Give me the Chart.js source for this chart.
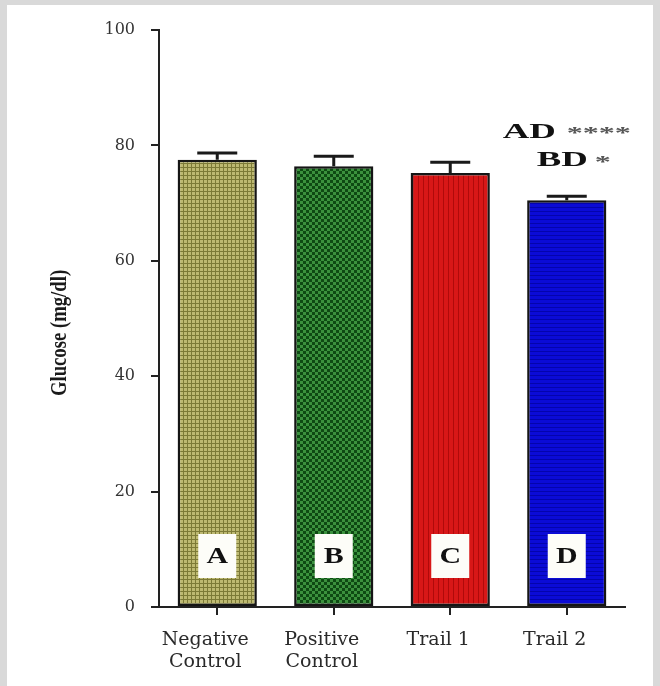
<!DOCTYPE html>
<html>
<head>
<meta charset="utf-8">
<script src="https://cdn.jsdelivr.net/npm/chart.js@4.4.1/dist/chart.umd.min.js"></script>
<style>
  html, body { margin: 0; padding: 0; background: #d9d9d9; }
  #panel { position: absolute; left: 7px; top: 5px; width: 646px; height: 681px; background: #fff; }
  #glucoseChart { position: absolute; left: 0; top: 0; }
</style>
</head>
<body>
<div id="panel"></div>
<canvas id="glucoseChart" width="660" height="686"></canvas>
<script>
// chart data
const groups = [['Negative', 'Control'], ['Positive', 'Control'], 'Trail 1', 'Trail 2'];
const groupLetters = ['A', 'B', 'C', 'D'];
const glucoseMean = [77.5, 76.4, 75.2, 70.5];
const glucoseErr = [1.2, 1.7, 1.9, 0.7];
const yTicks = [0, 20, 40, 60, 80, 100];
const sigLabels = [['AD', '****'], ['BD', '*']];

// little tiles for the hatched bar fills
function tile(w, h, draw) {
    const c = document.createElement('canvas');
    c.width = w;
    c.height = h;
    draw(c.getContext('2d'));
    return c;
}

const canvas = document.getElementById('glucoseChart');
const ctx = canvas.getContext('2d');

const fills = [
    ctx.createPattern(tile(4, 4, g => {
        g.fillStyle = '#7c7a36'; g.fillRect(0, 0, 4, 4);
        g.fillStyle = '#bdb971'; g.fillRect(0, 0, 3, 3);
    }), 'repeat'),
    ctx.createPattern(tile(6, 6, g => {
        g.fillStyle = '#3b913d'; g.fillRect(0, 0, 6, 6);
        g.fillStyle = '#0e4a13'; g.fillRect(0, 0, 3, 3); g.fillRect(3, 3, 3, 3);
    }), 'repeat'),
    ctx.createPattern(tile(5, 1, g => {
        g.fillStyle = '#d81717'; g.fillRect(0, 0, 5, 1);
        g.fillStyle = '#b00a0a'; g.fillRect(3, 0, 1, 1);
    }), 'repeat'),
    ctx.createPattern(tile(1, 4, g => {
        g.fillStyle = '#0b0bd6'; g.fillRect(0, 0, 1, 4);
        g.fillStyle = '#0404ac'; g.fillRect(0, 3, 1, 1);
    }), 'repeat')
];

const errorBars = {
    id: 'errorBars',
    afterDatasetsDraw(chart) {
        const { ctx, scales: { y } } = chart;
        const bars = chart.getDatasetMeta(0).data;
        ctx.save();
        ctx.strokeStyle = '#1a1a1a';
        ctx.lineWidth = 3;
        bars.forEach((bar, i) => {
            const top = y.getPixelForValue(glucoseMean[i] + glucoseErr[i]);
            ctx.beginPath();
            ctx.moveTo(bar.x, bar.y);
            ctx.lineTo(bar.x, top);
            ctx.moveTo(bar.x - 20, top);
            ctx.lineTo(bar.x + 20, top);
            ctx.stroke();
        });
        ctx.restore();
    }
};

// white boxes with the group letters, near the foot of each bar
const letterBoxes = {
    id: 'letterBoxes',
    afterDatasetsDraw(chart) {
        const { ctx } = chart;
        const bars = chart.getDatasetMeta(0).data;
        ctx.save();
        bars.forEach((bar, i) => {
            const cy = bar.base - 50;
            ctx.fillStyle = '#fdfdf8';
            ctx.fillRect(bar.x - 19, cy - 22, 38, 44);
            ctx.save();
            ctx.translate(bar.x, cy + 1);
            ctx.scale(1.3, 1);
            ctx.fillStyle = '#111';
            ctx.font = 'bold 23px "Liberation Serif"';
            ctx.textAlign = 'center';
            ctx.textBaseline = 'middle';
            ctx.fillText(groupLetters[i], 0, 0);
            ctx.restore();
        });
        ctx.restore();
    }
};

// significance notes above the last bar, plus the y title
const notes = {
    id: 'notes',
    afterDraw(chart) {
        const { ctx, scales: { y } } = chart;
        const last = chart.getDatasetMeta(0).data[3];
        const top = y.getPixelForValue(glucoseMean[3] + glucoseErr[3]);
        const spots = [
            { dx: -64, dy: -58, sdx: 0, sdy: -62 },
            { dx: -30, dy: -30, sdx: 28, sdy: -33 }
        ];
        ctx.save();
        ctx.textBaseline = 'alphabetic';
        ctx.textAlign = 'left';
        sigLabels.forEach((lab, i) => {
            const s = spots[i];
            ctx.save();
            ctx.translate(last.x + s.dx, top + s.dy);
            ctx.scale(1.75, 1);
            ctx.fillStyle = '#111';
            ctx.font = 'bold 21px "Liberation Serif"';
            ctx.fillText(lab[0], 0, 0);
            ctx.restore();
            ctx.save();
            ctx.translate(last.x + s.sdx, top + s.sdy + 4);
            ctx.scale(2, 1);
            ctx.fillStyle = '#555';
            ctx.font = 'bold 16px "Liberation Serif"';
            ctx.fillText(lab[1], 0, 0);
            ctx.restore();
        });

        ctx.translate(60, 333);
        ctx.rotate(-Math.PI / 2);
        ctx.scale(1.1, 1.3);
        ctx.textAlign = 'center';
        ctx.textBaseline = 'middle';
        ctx.fillStyle = '#1a1a1a';
        ctx.font = 'bold 17px "Liberation Serif"';
        ctx.fillText('Glucose (mg/dl)', 0, 0);
        ctx.restore();
    }
};

new Chart(canvas, {
    type: 'bar',
    data: {
        labels: groups,
        datasets: [{
            data: glucoseMean,
            backgroundColor: fills,
            borderColor: '#151515',
            borderWidth: 2.5,
            borderSkipped: false,
            barPercentage: 0.68,
            categoryPercentage: 1
        }]
    },
    options: {
        responsive: false,
        animation: false,
        devicePixelRatio: 1,
        layout: { padding: { top: 30, right: 35, left: 0, bottom: 0 } },
        plugins: {
            legend: { display: false },
            tooltip: { enabled: false }
        },
        scales: {
            x: {
                grid: { offset: false, drawOnChartArea: false, tickLength: 8, color: '#222', lineWidth: 2 },
                border: { color: '#222', width: 2 },
                ticks: {
                    font: { family: 'DejaVu Serif', size: 19, lineHeight: 1.15 },
                    color: '#2a2a2a',
                    padding: 14,
                    maxRotation: 0,
                    autoSkip: false,
                    labelOffset: -12
                },
                afterFit: s => { s.height = 79; }
            },
            y: {
                min: 0,
                max: 100,
                afterBuildTicks: s => { s.ticks = yTicks.map(v => ({ value: v })); },
                grid: { drawOnChartArea: false, tickLength: 8, color: '#222', lineWidth: 2 },
                border: { color: '#222', width: 2 },
                ticks: {
                    font: { family: 'DejaVu Serif', size: 16 },
                    color: '#333',
                    padding: 16
                },
                afterFit: s => { s.width = 159; }
            }
        }
    },
    plugins: [errorBars, letterBoxes, notes]
});
</script>
</body>
</html>
